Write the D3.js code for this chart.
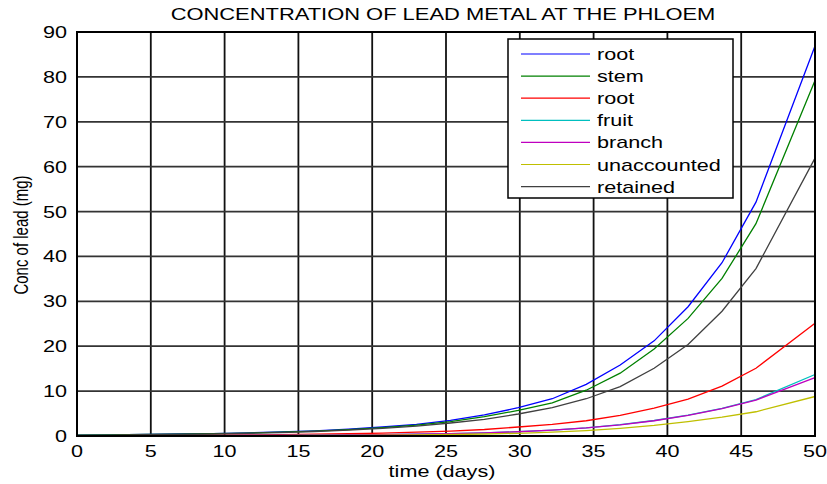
<!DOCTYPE html>
<html>
<head>
<meta charset="utf-8">
<script src="https://cdn.jsdelivr.net/npm/d3@7"></script>
<style>
  html, body { margin: 0; padding: 0; background: #fff; }
  svg { display: block; }
  text { font-family: "Liberation Sans", Arial, sans-serif; fill: #000; }
</style>
</head>
<body>
<svg id="chart" width="827" height="484"></svg>
<script>
// Sample times (days)
const days = [0, 2.3, 4.6, 6.9, 9.2, 11.5, 13.8, 16.1, 18.4, 20.7, 23.0, 25.3, 27.6, 29.9, 32.2, 34.5, 36.8, 39.1, 41.4, 43.7, 46.0, 50.0];

// Lead concentration (mg) per compartment
const rootA       = [0.20, 0.25, 0.35, 0.45, 0.55, 0.70, 0.90, 1.15, 1.50, 2.00, 2.60, 3.50, 4.70, 6.30, 8.30, 11.5, 15.8, 21.2, 28.8, 38.6, 52.1, 86.9];
const stem        = [0.20, 0.25, 0.33, 0.42, 0.52, 0.65, 0.85, 1.10, 1.40, 1.85, 2.40, 3.20, 4.30, 5.70, 7.40, 10.2, 14.0, 19.4, 26.2, 35.1, 47.3, 79.2];
const rootB       = [0.08, 0.10, 0.12, 0.15, 0.20, 0.25, 0.32, 0.40, 0.50, 0.65, 0.85, 1.10, 1.45, 2.00, 2.60, 3.40, 4.60, 6.20, 8.20, 11.1, 15.1, 25.1];
const fruit       = [0.04, 0.05, 0.06, 0.07, 0.09, 0.11, 0.14, 0.18, 0.23, 0.30, 0.40, 0.52, 0.70, 0.96, 1.32, 1.82, 2.52, 3.45, 4.65, 6.15, 8.10, 13.7];
const branch      = [0.04, 0.05, 0.06, 0.07, 0.09, 0.11, 0.14, 0.18, 0.23, 0.30, 0.40, 0.52, 0.70, 0.95, 1.30, 1.80, 2.50, 3.40, 4.60, 6.10, 8.00, 13.0];
const unaccounted = [0.03, 0.03, 0.04, 0.05, 0.06, 0.07, 0.09, 0.12, 0.15, 0.19, 0.25, 0.33, 0.45, 0.60, 0.85, 1.20, 1.70, 2.35, 3.20, 4.20, 5.40, 8.80];
const retained    = [0.15, 0.20, 0.28, 0.35, 0.45, 0.60, 0.75, 1.00, 1.30, 1.70, 2.20, 2.90, 3.70, 4.90, 6.30, 8.30, 11.0, 15.1, 20.4, 27.8, 37.3, 61.9];

const seriesNames  = ["root", "stem", "root", "fruit", "branch", "unaccounted", "retained"];
const seriesValues = [rootA, stem, rootB, fruit, branch, unaccounted, retained];
const seriesColors = ["#0000ff", "#008000", "#ff0000", "#00bfbf", "#bf00bf", "#bfbf00", "#404040"];

const xTicks = [0, 5, 10, 15, 20, 25, 30, 35, 40, 45, 50];
const yTicks = [0, 10, 20, 30, 40, 50, 60, 70, 80, 90];

const titleText = "CONCENTRATION OF LEAD METAL AT THE PHLOEM";
const xLabel = "time (days)";
const yLabel = "Conc of lead (mg)";

// Plot box
const plotLeft = 77, plotRight = 815, plotTop = 32, plotBottom = 436;
const stretch = 1.35;   // horizontal text stretch
const fs = 16;

const svg = d3.select("#chart");

const x = d3.scaleLinear().domain([0, 50]).range([plotLeft, plotRight]);
const y = d3.scaleLinear().domain([0, 90]).range([plotBottom, plotTop]);

// Grid
const grid = svg.append("g");
grid.selectAll("line.v").data(xTicks.slice(1, -1)).join("line")
  .attr("class", "v")
  .attr("x1", d => x(d)).attr("x2", d => x(d))
  .attr("y1", plotTop).attr("y2", plotBottom)
  .attr("stroke", "#111").attr("stroke-width", 1.8);
grid.selectAll("line.h").data(yTicks.slice(1, -1)).join("line")
  .attr("class", "h")
  .attr("x1", plotLeft).attr("x2", plotRight)
  .attr("y1", d => y(d)).attr("y2", d => y(d))
  .attr("stroke", "#333").attr("stroke-width", 1.8);

// Series lines
const line = d3.line().x((d, i) => x(days[i])).y(d => y(d));
svg.append("g").selectAll("path").data(seriesValues).join("path")
  .attr("d", d => line(d))
  .attr("fill", "none")
  .attr("stroke", (d, i) => seriesColors[i])
  .attr("stroke-width", 1.3);

// Frame
svg.append("rect")
  .attr("x", plotLeft).attr("y", plotTop)
  .attr("width", plotRight - plotLeft).attr("height", plotBottom - plotTop)
  .attr("fill", "none").attr("stroke", "#000").attr("stroke-width", 2);

// Stretched text helper
function label(g, tx, ty, str, anchor, size, sx) {
  return g.append("text")
    .attr("transform", `translate(${tx},${ty}) scale(${sx || stretch},1)`)
    .attr("text-anchor", anchor)
    .attr("font-size", size || fs)
    .text(str);
}

// Axis tick labels
const axisG = svg.append("g");
xTicks.forEach(t => label(axisG, x(t), 457, t, "middle"));
yTicks.forEach(t => label(axisG, 67, y(t) + 6, t, "end"));

// Title and axis titles
label(svg, 443, 20, titleText, "middle", 16, 1.37);
label(svg, 442, 477, xLabel, "middle");
svg.append("text")
  .attr("transform", `translate(28,235) rotate(-90) scale(1,${stretch})`)
  .attr("text-anchor", "middle")
  .attr("font-size", 15)
  .text(yLabel);

// Legend
const lg = svg.append("g");
lg.append("rect")
  .attr("x", 508).attr("y", 39).attr("width", 225).attr("height", 159)
  .attr("fill", "#fff").attr("stroke", "#000").attr("stroke-width", 1.5);
seriesNames.forEach((name, i) => {
  const ly = 54 + i * 22.1;
  lg.append("line")
    .attr("x1", 521).attr("x2", 590).attr("y1", ly).attr("y2", ly)
    .attr("stroke", seriesColors[i]).attr("stroke-width", 1.2);
  label(lg, 597, ly + 6, name, "start");
});
</script>
</body>
</html>
